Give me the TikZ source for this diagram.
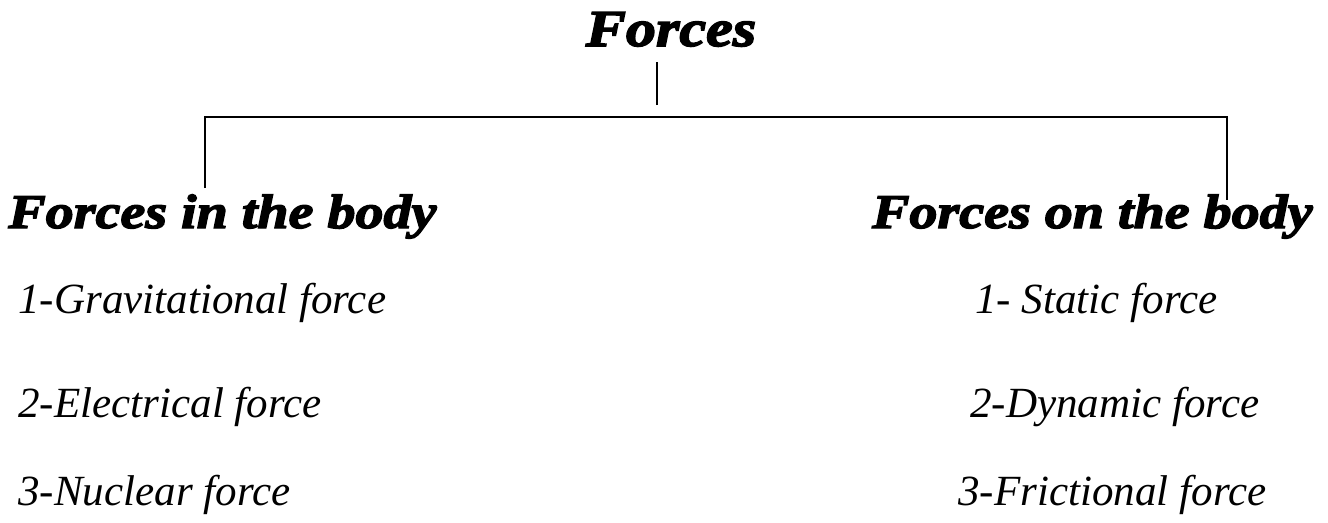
\documentclass[tikz,border=0pt]{standalone}
\usepackage{fontspec}
\setmainfont{Liberation Serif}
\newfontfamily\headfont[FakeBold=3,FakeStretch=1.16]{Liberation Serif Bold Italic}
\usetikzlibrary{positioning}

\begin{document}
\begin{tikzpicture}[x=0.02cm,y=-0.02cm]
\tikzstyle{headnode}=[inner sep=0pt,font=\headfont\fontsize{27.5}{30}\selectfont]
\tikzstyle{itemnode}=[inner sep=0pt,anchor=base west,font=\itshape\fontsize{24.5}{28}\selectfont]
\tikzstyle{branch}=[line width=0.8pt]
    \useasboundingbox (0,0) rectangle (1328,522);

    \node (forces) [headnode, anchor=base, font=\headfont\fontsize{29.5}{32}\selectfont] at (671,46) {Forces};
    \coordinate (stem) at (657,105);

    \node (inbody) [headnode, anchor=base west] at (8,228) {Forces in the body};
    \node (onbody) [headnode, anchor=base east] at (1313,228) {Forces on the body};

    \coordinate (lefttop) at (205,117);
    \coordinate (righttop) at (1227,117);
    \coordinate (leftend) at (205,188);
    \coordinate (rightend) at (1227,200);

    % items in the body
    \node (grav) [itemnode] at (18,313) {1-Gravitational force};
    \node (elec) [itemnode] at (18,417) {2-Electrical force};
    \node (nucl) [itemnode] at (18,505) {3-Nuclear force};

    % items on the body
    \node (stat) [itemnode] at (975,313) {1- Static force};
    \node (dyna) [itemnode] at (970,417) {2-Dynamic force};
    \node (fric) [itemnode] at (958,505) {3-Frictional force};

    \draw[branch, shorten >=9pt] (stem) -- (stem |- forces.base);
    \draw[branch] (leftend) -- (lefttop) -- (righttop) -- (rightend);
\end{tikzpicture}
\end{document}
